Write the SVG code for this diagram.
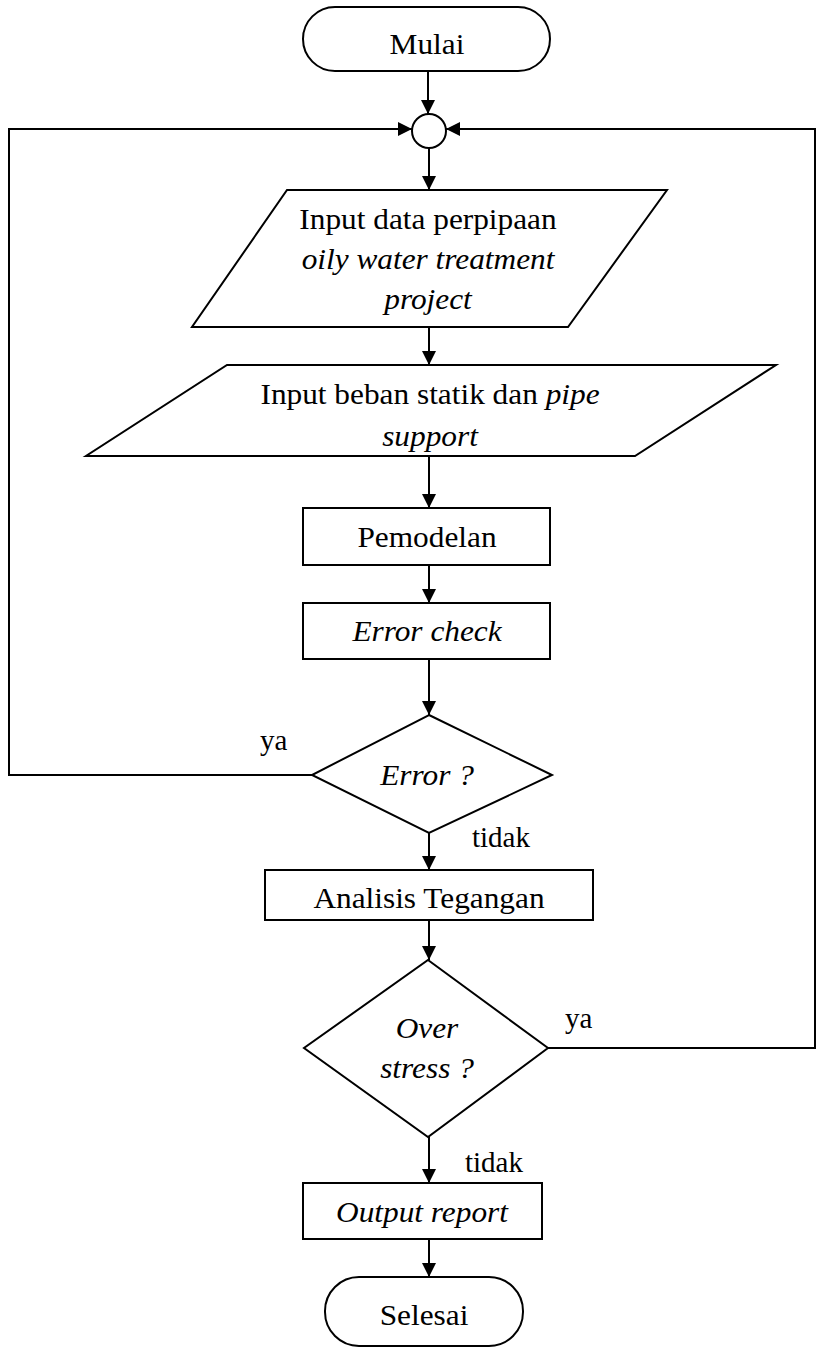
<svg xmlns="http://www.w3.org/2000/svg" width="817" height="1353" viewBox="0 0 817 1353">
<style>
.s{fill:#fff;stroke:#000;stroke-width:2}
.c{fill:none;stroke:#000;stroke-width:2}
text{font-family:"Liberation Serif","Times New Roman",serif;font-size:29px;fill:#000}
.m{text-anchor:middle}
.i{font-style:italic}
</style>
<defs>
<marker id="ah" viewBox="0 0 14 14" refX="14" refY="7" markerWidth="14" markerHeight="14" markerUnits="userSpaceOnUse" orient="auto">
<path d="M0,0 L14,7 L0,14 Z" fill="#000"/>
</marker>
</defs>
<rect width="817" height="1353" fill="#fff"/>
<g id="connectors">
<line class="c" x1="428" y1="71" x2="428" y2="114" marker-end="url(#ah)"/>
<polyline class="c" points="312,775 9,775 9,129 412,129" marker-end="url(#ah)"/>
<polyline class="c" points="548,1048 815,1048 815,129 446,129" marker-end="url(#ah)"/>
<line class="c" x1="429" y1="148" x2="429" y2="190" marker-end="url(#ah)"/>
<line class="c" x1="429" y1="327" x2="429" y2="365" marker-end="url(#ah)"/>
<line class="c" x1="429" y1="456" x2="429" y2="508" marker-end="url(#ah)"/>
<line class="c" x1="429" y1="565" x2="429" y2="603" marker-end="url(#ah)"/>
<line class="c" x1="429" y1="659" x2="429" y2="715" marker-end="url(#ah)"/>
<line class="c" x1="429" y1="833" x2="429" y2="870" marker-end="url(#ah)"/>
<line class="c" x1="429" y1="920" x2="429" y2="960" marker-end="url(#ah)"/>
<line class="c" x1="429" y1="1137" x2="429" y2="1183" marker-end="url(#ah)"/>
<line class="c" x1="429" y1="1239" x2="429" y2="1277" marker-end="url(#ah)"/>
<text x="260" y="750">ya</text>
<text x="472" y="847">tidak</text>
<text x="565" y="1028">ya</text>
<text x="465" y="1172">tidak</text>
</g>
<g id="mulai">
<rect class="s" x="303" y="7" width="247" height="64" rx="32" ry="32"/>
<text class="m" transform="translate(427,54) scale(1.08,1)">Mulai</text>
</g>
<g id="junction">
<circle class="s" cx="429" cy="131" r="17"/>
</g>
<g id="input-data">
<polygon class="s" points="287,190 667,190 568,327 192,327"/>
<text class="m" transform="translate(428,229) scale(1.08,1)">Input data perpipaan</text>
<text class="m i" transform="translate(428,269) scale(1.08,1)">oily water treatment</text>
<text class="m i" transform="translate(428,309) scale(1.08,1)">project</text>
</g>
<g id="input-beban">
<polygon class="s" points="227,365 776,365 635,456 86,456"/>
<text class="m" transform="translate(430,404) scale(1.08,1)">Input beban statik dan <tspan class="i">pipe</tspan></text>
<text class="m i" transform="translate(430,446) scale(1.08,1)">support</text>
</g>
<g id="pemodelan">
<rect class="s" x="303" y="508" width="247" height="57"/>
<text class="m" transform="translate(427,547) scale(1.08,1)">Pemodelan</text>
</g>
<g id="error-check">
<rect class="s" x="303" y="603" width="247" height="56"/>
<text class="m i" transform="translate(427,641) scale(1.08,1)">Error check</text>
</g>
<g id="error-decision">
<polygon class="s" points="429,715 552,775 429,833 312,775"/>
<text class="m i" transform="translate(427,785) scale(1.08,1)">Error ?</text>
</g>
<g id="analisis">
<rect class="s" x="265" y="870" width="328" height="50"/>
<text class="m" transform="translate(429,908) scale(1.08,1)">Analisis Tegangan</text>
</g>
<g id="overstress-decision">
<polygon class="s" points="428,960 548,1048 428,1137 304,1048"/>
<text class="m i" transform="translate(427,1038) scale(1.08,1)">Over</text>
<text class="m i" transform="translate(427,1078) scale(1.08,1)">stress ?</text>
</g>
<g id="output-report">
<rect class="s" x="303" y="1183" width="239" height="56"/>
<text class="m i" transform="translate(422,1222) scale(1.08,1)">Output report</text>
</g>
<g id="selesai">
<rect class="s" x="325" y="1277" width="198" height="69" rx="34" ry="34"/>
<text class="m" transform="translate(424,1325) scale(1.08,1)">Selesai</text>
</g>
</svg>
